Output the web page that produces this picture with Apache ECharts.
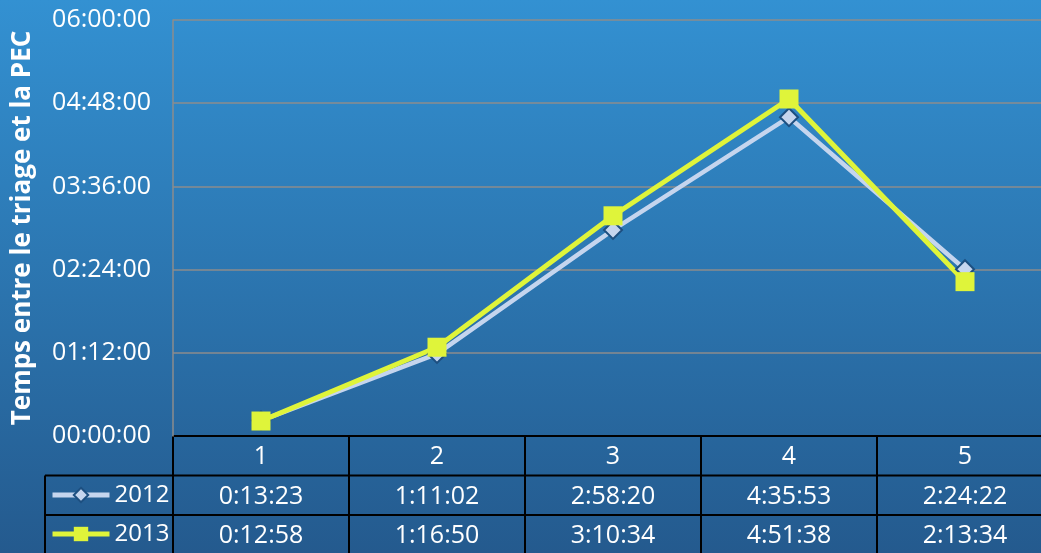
<!DOCTYPE html>
<html>
<head>
<meta charset="utf-8">
<script src="https://cdn.jsdelivr.net/npm/echarts@6/dist/echarts.min.js"></script>
<style>
html,body{margin:0;padding:0;background:#2a70ac;}
#c{width:1041px;height:553px;}
</style>
</head>
<body>
<div id="c"></div>
<script>
const categories = ['1', '2', '3', '4', '5'];
const seriesNames = ['2012', '2013'];
const times2012 = ['0:13:23', '1:11:02', '2:58:20', '4:35:53', '2:24:22'];
const times2013 = ['0:12:58', '1:16:50', '3:10:34', '4:51:38', '2:13:34'];
const yMin = 0, yMax = 21600, yInterval = 4320;
const yAxisTitle = 'Temps entre le triage et la PEC';

function toSec(s){const p=s.split(':').map(Number);return p[0]*3600+p[1]*60+p[2];}
function pad(n){return (n<10?'0':'')+n;}
function fmtAxis(v){const h=Math.floor(v/3600),m=Math.floor((v%3600)/60),s=v%60;return pad(h)+':'+pad(m)+':'+pad(s);}
const vals2012 = times2012.map(toSec);
const vals2013 = times2013.map(toSec);

const FONT = 'Open Sans';
const FS = 25;
const chart = echarts.init(document.getElementById('c'));
const lbl = {color:'#fff', fontSize:FS, fontFamily:FONT, lineHeight:26, margin:8};
const legendText = {color:'#fff', fontSize:24, fontFamily:FONT, lineHeight:26};
function mkLegend(name, top){
  return {orient:'horizontal', left:50, top:top, padding:0, itemWidth:57, itemHeight:18,
    textStyle:legendText, lineStyle:{width:5}, data:[name]};
}
const option = {
  backgroundColor: new echarts.graphic.LinearGradient(0,0,0,1,[{offset:0,color:'#3391d2'},{offset:1,color:'#245a8e'}]),
  animation:false,
  grid:{left:173, top:20, width:880, bottom:117, containLabel:false, outerBoundsMode:'none'},
  legend:[mkLegend(seriesNames[0], 482), mkLegend(seriesNames[1], 521)],
  xAxis:[
    {type:'category', data:categories, boundaryGap:true, axisLine:{show:false}, axisTick:{show:false}, axisLabel:lbl, splitLine:{show:false}},
    {type:'category', data:times2012, position:'bottom', offset:39.5, axisLine:{show:false}, axisTick:{show:false}, axisLabel:lbl},
    {type:'category', data:times2013, position:'bottom', offset:79, axisLine:{show:false}, axisTick:{show:false}, axisLabel:lbl}
  ],
  yAxis:{
    type:'value', min:yMin, max:yMax, interval:yInterval,
    name:yAxisTitle, nameLocation:'middle', nameGap:137, nameRotate:90,
    nameTextStyle:{color:'#fff', fontSize:26, fontWeight:'bold', fontFamily:FONT},
    axisLine:{show:true, lineStyle:{color:'#8c8c8c', width:1.5}},
    axisTick:{show:false},
    axisLabel:{color:'#fff', fontSize:FS, fontFamily:FONT, margin:22, formatter:fmtAxis},
    splitLine:{lineStyle:{color:'#8c8c8c', width:1.5}}
  },
  series:[
    {name:seriesNames[0], type:'line', data:vals2012, symbol:'diamond', symbolSize:18,
     lineStyle:{color:'#c5d5ee', width:4.5}, itemStyle:{color:'#c5d5ee', borderColor:'#1d4f80', borderWidth:2}},
    {name:seriesNames[1], type:'line', data:vals2013, symbol:'rect', symbolSize:19,
     lineStyle:{color:'#dff43a', width:5}, itemStyle:{color:'#dff43a', borderWidth:0}}
  ]
};
chart.setOption(option);

// Data-table lines, derived from the chart's own scales
const c0 = chart.convertToPixel({xAxisIndex:0}, 0);
const c1 = chart.convertToPixel({xAxisIndex:0}, 1);
const step = c1 - c0;
const yBase = chart.convertToPixel({yAxisIndex:0}, yMin);
const rowH = 39.5;
const leftEdge = 45;
const plotLeft = c0 - step/2;
const plotRight = c0 + step*(categories.length-0.5);
const ls = {stroke:'#000', lineWidth:2};
const els = [];
els.push({type:'line', shape:{x1:plotLeft, y1:yBase, x2:plotRight, y2:yBase}, style:ls});
for (let r=1;r<=3;r++){
  els.push({type:'line', shape:{x1:leftEdge, y1:yBase+rowH*r, x2:plotRight, y2:yBase+rowH*r}, style:ls});
}
els.push({type:'line', shape:{x1:leftEdge, y1:yBase+rowH, x2:leftEdge, y2:yBase+rowH*3}, style:ls});
for (let i=0;i<=categories.length;i++){
  const x = plotLeft + step*i;
  els.push({type:'line', shape:{x1:x, y1:yBase, x2:x, y2:yBase+rowH*3}, style:ls});
}
chart.setOption({graphic:{elements:els}});
</script>
</body>
</html>
